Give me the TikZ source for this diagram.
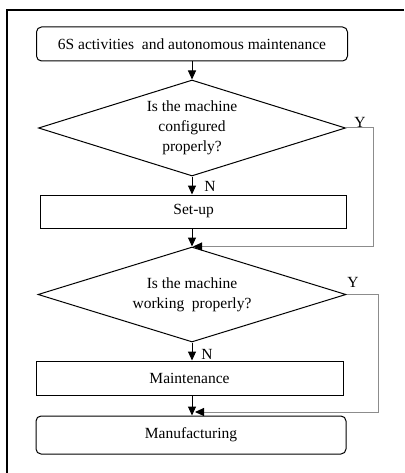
\documentclass[tikz,border=0pt]{standalone}
\usepackage{fontspec}
\setmainfont{Liberation Serif}
\usetikzlibrary{shapes.geometric,arrows.meta}
\begin{document}
\begin{tikzpicture}[x=1pt,y=-1pt,
  every node/.style={font=\fontsize{15.5}{20}\selectfont},
  box/.style={draw,line width=1pt,inner sep=0pt},
  rbox/.style={box,rounded corners=5pt},
  decision/.style={draw,diamond,line width=1pt,aspect=3.2,inner sep=0pt,align=center},
  flow/.style={line width=1pt,-{Triangle[length=9pt,width=8pt]}},
  back/.style={draw=black!45,line width=1pt,-{Triangle[length=9pt,width=8pt,color=black]}},
  lbl/.style={inner sep=0pt}
]
\useasboundingbox (0,0) rectangle (404,473);
\fill[white] (0,0) rectangle (404,473);
\draw[line width=1.2pt] (7,473) -- (7,10) -- (404,10);

\node[rbox,minimum width=311pt,minimum height=34pt] (start) at (192,44) {6S activities\ \ and autonomous maintenance};
\node[decision,minimum width=307pt,minimum height=96pt] (d1) at (192,128) {Is the machine\\configured\\properly?};
\node[box,minimum width=306pt,minimum height=33pt] (setup) at (193.7,211.5) {Set-up};
\node[decision,minimum width=308pt,minimum height=95pt] (d2) at (192,294.5) {Is the machine\\working\ \ properly?};
\node[box,minimum width=307pt,minimum height=34pt] (maint) at (189.5,378) {Maintenance};
\node[rbox,minimum width=310pt,minimum height=38pt] (manuf) at (191,435) {Manufacturing};

\draw[flow] (start.south -| d1.north) -- (d1.north);
\draw[flow] (d1.south) -- (d1.south |- setup.north);
\draw[flow] (setup.south -| d2.north) -- (d2.north);
\draw[flow] (d2.south) -- (d2.south |- maint.north);
\draw[flow] (d2.south |- maint.south) -- (d2.south |- manuf.north);

\coordinate (j1) at (193,246.5);
\coordinate (j2) at (195,412);
\draw[back] (d1.east) -- ++(27,0) |- (j1);
\draw[back] (d2.east) -- ++(32,0) |- (j2);

\node[lbl] (y1) at (360,122) {Y};
\node[lbl] (n1) at (210,186) {N};
\node[lbl] (y2) at (353,282) {Y};
\node[lbl] (n2) at (207,354) {N};
\end{tikzpicture}
\end{document}
